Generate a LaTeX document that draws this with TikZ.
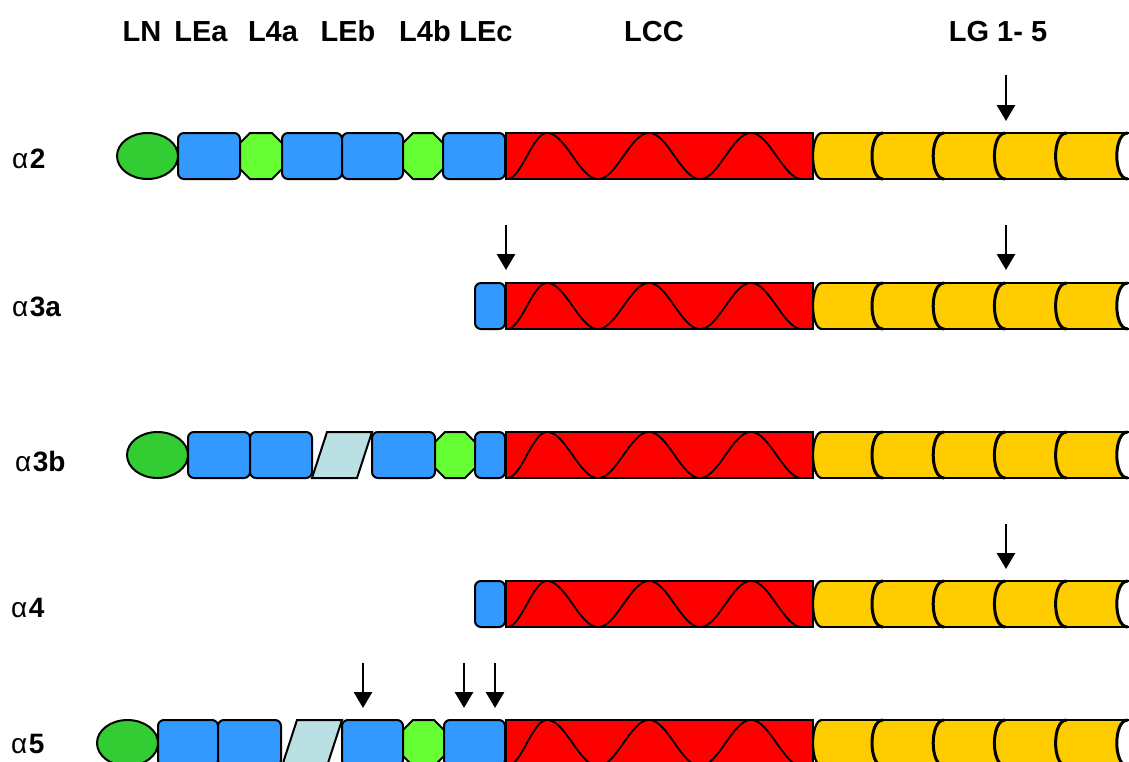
\documentclass[tikz,border=0pt]{standalone}
\usepackage{fontspec}
\setmainfont{Liberation Sans}
\usetikzlibrary{shapes.geometric,arrows.meta}
\definecolor{bluebox}{HTML}{3399FF}
\definecolor{greenell}{HTML}{33CC33}
\definecolor{greenoct}{HTML}{66FF33}
\definecolor{lccred}{HTML}{FF0000}
\definecolor{lgyellow}{HTML}{FFCC00}
\definecolor{paracol}{HTML}{BBE0E3}
\tikzset{
  outl/.style={draw=black, line width=2pt},
  bbox/.style={outl, fill=bluebox, rounded corners=6pt, inner sep=0pt, outer sep=0pt,
     minimum height=46pt, anchor=north west},
  lnell/.style={outl, fill=greenell, ellipse, inner sep=0pt, outer sep=0pt,
     minimum width=61pt, minimum height=46pt, anchor=west},
  octbox/.style={outl, fill=greenoct},
  parabox/.style={outl, fill=paracol},
  redrect/.style={outl, fill=lccred, inner sep=0pt, outer sep=0pt,
     minimum width=307pt, minimum height=46pt, anchor=north west},
  wave/.style={draw=black, line width=1.8pt},
  sepline/.style={draw=black, line width=3pt},
  arr/.style={line width=2.8pt, -{Triangle[width=18pt,length=16pt]}},
  hdr/.style={font=\bfseries\fontsize{29pt}{33pt}\selectfont, anchor=base, inner sep=0pt},
  rowlab/.style={font=\fontsize{28pt}{32pt}\selectfont, anchor=base west, inner sep=0pt}
}
\newcommand{\octa}[3]{% name, left x, right x
  \draw[octbox] (#2,10) -- (#2+10,0) -- (#3-10,0) -- (#3,10) -- (#3,36) -- (#3-10,46) -- (#2+10,46) -- (#2,36) -- cycle;
  \coordinate (#1) at ({(#2+#3)/2},23);}
\newcommand{\paral}[2]{% name, bottom-left x
  \draw[parabox] (#2,46) -- (#2+15,0) -- (#2+60,0) -- (#2+45,46) -- cycle;
  \coordinate (#1) at (#2+30,23);}
\newcommand{\tailpart}[1]{%
  \node[redrect] (#1lcc) at (506,0) {};
  \draw[wave] plot[domain=507:547, samples=30] (\x,{23+23*cos(4.5*(\x-507))})
     -- plot[domain=547:802, samples=150] (\x,{23-23*cos(3.5294*(\x-547))});
  \fill[lgyellow] (822,0) -- (1135,0) -- (1135,46) -- (822,46) .. controls (810,46) and (810,0) .. (822,0);
  \fill[white] (1127.8,0) .. controls (1113.1,0) and (1113.1,46) .. (1127.8,46) -- (1135,46) -- (1135,0) -- cycle;
  \draw[outl] (822,0) -- (1135,0);
  \draw[outl] (822,46) -- (1135,46);
  \draw[outl, line width=2.2pt] (822,46) .. controls (810,46) and (810,0) .. (822,0);
  \coordinate (#1lg) at (970,23);
  \foreach \k in {0,...,4}{
    \draw[sepline] ({872+61.2*\k+11},0) .. controls ({872+61.2*\k-3.67},0) and ({872+61.2*\k-3.67},46) .. ({872+61.2*\k+11},46);
  }}
\begin{document}
\begin{tikzpicture}[x=1pt,y=-1pt]
\useasboundingbox (0,0) rectangle (1129,761);
\clip (0,0) rectangle (1129,761);
\fill[white] (0,0) rectangle (1129,761);

% headers
\node[hdr] (hLN)  at (142,41.5) {LN};
\node[hdr] (hLEa) at (201,41.5) {LEa};
\node[hdr] (hL4a) at (273,41.5) {L4a};
\node[hdr] (hLEb) at (348,41.5) {LEb};
\node[hdr] (hL4b) at (425,41.5) {L4b};
\node[hdr] (hLEc) at (486,41.5) {LEc};
\node[hdr] (hLCC) at (654,41.5) {LCC};
\node[hdr] (hLG)  at (998,41.5) {LG 1- 5};

% row labels
\node[rowlab] (labA) at (12,168) {α\hspace{1.5pt}\textbf{2}};
\node[rowlab] (labB) at (12,316) {α\hspace{1.5pt}\textbf{3a}};
\node[rowlab] (labC) at (15,471) {α\hspace{1.5pt}\textbf{3b}};
\node[rowlab] (labD) at (11,617) {α\hspace{1.5pt}\textbf{4}};
\node[rowlab] (labE) at (11,753) {α\hspace{1.5pt}\textbf{5}};

% row alpha2
\begin{scope}[yshift=-133pt]
  \tailpart{ra}
  \node[lnell] (raLN) at (117,23) {};
  \node[bbox, minimum width=62pt] (raEa) at (178,0) {};
  \octa{ra4a}{240}{282}
  \node[bbox, minimum width=60pt] (raEb1) at (282,0) {};
  \node[bbox, minimum width=61pt] (raEb2) at (342,0) {};
  \octa{ra4b}{403}{443}
  \node[bbox, minimum width=62pt] (raEc) at (443,0) {};
\end{scope}

% row alpha3a
\begin{scope}[yshift=-283pt]
  \tailpart{rb}
  \node[bbox, minimum width=30pt] (rbEc) at (475,0) {};
\end{scope}

% row alpha3b
\begin{scope}[yshift=-432pt]
  \tailpart{rc}
  \node[lnell] (rcLN) at (127,23) {};
  \node[bbox, minimum width=62pt] (rcEa1) at (188,0) {};
  \node[bbox, minimum width=62pt] (rcEa2) at (250,0) {};
  \paral{rcP}{312}
  \node[bbox, minimum width=63pt] (rcEb) at (372,0) {};
  \octa{rc4b}{435}{475}
  \node[bbox, minimum width=30pt] (rcEc) at (475,0) {};
\end{scope}

% row alpha4
\begin{scope}[yshift=-581pt]
  \tailpart{rd}
  \node[bbox, minimum width=30pt] (rdEc) at (475,0) {};
\end{scope}

% row alpha5
\begin{scope}[yshift=-720pt]
  \tailpart{re}
  \node[lnell] (reLN) at (97,23) {};
  \node[bbox, minimum width=60pt] (reEa1) at (158,0) {};
  \node[bbox, minimum width=63pt] (reEa2) at (218,0) {};
  \paral{reP}{282}
  \node[bbox, minimum width=61pt] (reEb) at (342,0) {};
  \octa{re4b}{403}{444}
  \node[bbox, minimum width=61pt] (reEc) at (444,0) {};
\end{scope}

% arrows
\coordinate (aAs) at (1006,75);  \coordinate (aAt) at (1006,121);
\coordinate (aB1s) at (506,225); \coordinate (aB1t) at (506,270);
\coordinate (aB2s) at (1006,225); \coordinate (aB2t) at (1006,270);
\coordinate (aDs) at (1006,524); \coordinate (aDt) at (1006,569);
\coordinate (aE1s) at (363,663); \coordinate (aE1t) at (363,708);
\coordinate (aE2s) at (464,663); \coordinate (aE2t) at (464,708);
\coordinate (aE3s) at (495,663); \coordinate (aE3t) at (495,708);
\draw[arr] (aAs) -- (aAt);
\draw[arr] (aB1s) -- (aB1t);
\draw[arr] (aB2s) -- (aB2t);
\draw[arr] (aDs) -- (aDt);
\draw[arr] (aE1s) -- (aE1t);
\draw[arr] (aE2s) -- (aE2t);
\draw[arr] (aE3s) -- (aE3t);
\end{tikzpicture}
\end{document}
